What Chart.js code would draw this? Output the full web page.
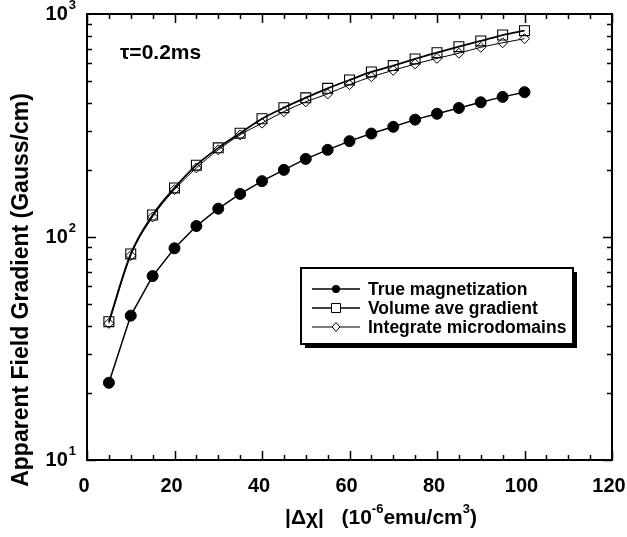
<!DOCTYPE html>
<html>
<head>
<meta charset="utf-8">
<script src="https://cdn.jsdelivr.net/npm/chart.js@4/dist/chart.umd.min.js"></script>
<style>
  html, body { margin: 0; padding: 0; background: #fff; }
  #wrap { width: 627px; height: 537px; }
</style>
</head>
<body>
<div id="wrap"><canvas id="c" width="627" height="537"></canvas></div>
<script>
// |Δχ| in 10^-6 emu/cm^3
const susceptibility = [5, 10, 15, 20, 25, 30, 35, 40, 45, 50, 55, 60, 65, 70, 75, 80, 85, 90, 95, 100];
// Apparent field gradient in Gauss/cm
const trueMagnetization = [22.2, 44.4, 66.8, 89, 112, 134, 156, 178, 200, 224, 246, 269, 291, 312, 336, 357, 379, 402, 425, 446];
const volumeAveGradient = [41.7, 84, 125.5, 166, 210, 251, 292, 339, 380, 421, 464, 506, 550, 587, 629, 671, 714, 757, 805, 842];
const integrateMicrodomains = [41, 82.5, 123, 163, 204, 246, 287, 324, 365, 404, 438, 482, 523, 559, 597, 633, 667, 709, 743, 775];

const seriesNames = ['True magnetization', 'Volume ave gradient', 'Integrate microdomains'];
const xTickValues = [0, 20, 40, 60, 80, 100, 120];
const xMinorStep = 5;
const yTickExponents = [1, 2, 3];

const FONT = '"Liberation Sans", Arial, Helvetica, sans-serif';

function pairs(ys) {
  return susceptibility.map((x, i) => ({ x: x, y: ys[i] }));
}

// text with a raised superscript; align 'left' | 'right' | 'center'
function drawSup(ctx, base, sup, x, y, size, supSize, align) {
  ctx.font = 'bold ' + size + 'px ' + FONT;
  const wb = ctx.measureText(base).width;
  ctx.font = 'bold ' + supSize + 'px ' + FONT;
  const ws = ctx.measureText(sup).width;
  const total = wb + ws;
  let x0 = x;
  if (align === 'right') x0 = x - total;
  else if (align === 'center') x0 = x - total / 2;
  ctx.textAlign = 'left';
  ctx.textBaseline = 'middle';
  ctx.font = 'bold ' + size + 'px ' + FONT;
  ctx.fillText(base, x0, y);
  ctx.font = 'bold ' + supSize + 'px ' + FONT;
  ctx.fillText(sup, x0 + wb + 1, y - size * 0.42);
}

function drawMarker(ctx, kind, x, y, r) {
  ctx.beginPath();
  if (kind === 'circle') {
    ctx.arc(x, y, r, 0, Math.PI * 2);
    ctx.fill();
  } else if (kind === 'rect') {
    ctx.rect(x - r, y - r, 2 * r, 2 * r);
    ctx.stroke();
  } else {
    ctx.moveTo(x, y - r);
    ctx.lineTo(x + r * 0.85, y);
    ctx.lineTo(x, y + r);
    ctx.lineTo(x - r * 0.85, y);
    ctx.closePath();
    ctx.stroke();
  }
}

const framePlugin = {
  id: 'frameAndText',
  afterDraw(chart) {
    const { ctx, chartArea: a, scales } = chart;
    const xs = scales.x, ys = scales.y;
    ctx.save();
    ctx.strokeStyle = '#000';
    ctx.fillStyle = '#000';

    // plot frame
    ctx.lineWidth = 2;
    ctx.strokeRect(a.left, a.top, a.right - a.left, a.bottom - a.top);

    // inward ticks on all four sides
    ctx.lineWidth = 1.5;
    ctx.beginPath();
    for (let v = xs.min; v <= xs.max; v += xMinorStep) {
      const px = Math.round(xs.getPixelForValue(v)) + 0.5;
      const len = xTickValues.includes(v) ? 9 : 5;
      ctx.moveTo(px, a.bottom); ctx.lineTo(px, a.bottom - len);
      ctx.moveTo(px, a.top); ctx.lineTo(px, a.top + len);
    }
    for (let e = yTickExponents[0]; e < yTickExponents[yTickExponents.length - 1]; e++) {
      for (let m = 1; m <= 9; m++) {
        const v = m * Math.pow(10, e);
        const py = Math.round(ys.getPixelForValue(v)) + 0.5;
        const len = m === 1 ? 9 : 5;
        ctx.moveTo(a.left, py); ctx.lineTo(a.left + len, py);
        ctx.moveTo(a.right, py); ctx.lineTo(a.right - len, py);
      }
    }
    ctx.stroke();

    // x tick labels
    ctx.font = 'bold 20px ' + FONT;
    ctx.textAlign = 'center';
    ctx.textBaseline = 'middle';
    xTickValues.forEach(v => {
      ctx.fillText(String(v), xs.getPixelForValue(v) - 3, 486);
    });

    // y tick labels
    yTickExponents.forEach(e => {
      drawSup(ctx, '10', String(e), 75, ys.getPixelForValue(Math.pow(10, e)), 20, 13, 'right');
    });

    // axis titles
    ctx.save();
    ctx.translate(22, 290);
    ctx.rotate(-Math.PI / 2);
    ctx.font = 'bold 23px ' + FONT;
    ctx.textAlign = 'center';
    ctx.textBaseline = 'middle';
    ctx.fillText('Apparent Field Gradient (Gauss/cm)', 0, 0);
    ctx.restore();

    // "|Δχ|   (10^-6emu/cm^3)"
    {
      const size = 21, sup = 13, y = 518;
      const parts = [
        ['|\u0394\u03C7|   (10', size, 0],
        ['-6', sup, -9],
        ['emu/cm', size, 0],
        ['3', sup, -9],
        [')', size, 0]
      ];
      let total = 0;
      parts.forEach(p => { ctx.font = 'bold ' + p[1] + 'px ' + FONT; total += ctx.measureText(p[0]).width; });
      let x = 381 - total / 2;
      ctx.textAlign = 'left';
      ctx.textBaseline = 'middle';
      parts.forEach(p => {
        ctx.font = 'bold ' + p[1] + 'px ' + FONT;
        ctx.fillText(p[0], x, y + p[2]);
        x += ctx.measureText(p[0]).width;
      });
    }

    // annotation
    ctx.font = 'bold 21px ' + FONT;
    ctx.textAlign = 'left';
    ctx.textBaseline = 'middle';
    ctx.fillText('\u03C4=0.2ms', 120, 53);

    // legend box with drop shadow
    const bx = 301, by = 268, bw = 272, bh = 76;
    ctx.fillStyle = '#000';
    ctx.fillRect(bx + 4, by + 4, bw, bh);
    ctx.fillStyle = '#fff';
    ctx.fillRect(bx, by, bw, bh);
    ctx.lineWidth = 2;
    ctx.strokeStyle = '#000';
    ctx.strokeRect(bx, by, bw, bh);

    const rows = [289, 308, 327];
    const kinds = ['circle', 'rect', 'diamond'];
    const widths = [1.5, 1.5, 1];
    const radii = [4, 4.5, 4.5];
    ctx.fillStyle = '#000';
    rows.forEach((ry, i) => {
      ctx.lineWidth = widths[i];
      ctx.beginPath();
      ctx.moveTo(312, ry); ctx.lineTo(360, ry);
      ctx.stroke();
      ctx.save();
      ctx.fillStyle = '#000';
      if (kinds[i] !== 'circle') {
        ctx.fillStyle = '#fff';
        ctx.beginPath();
        if (kinds[i] === 'rect') ctx.rect(336 - radii[i], ry - radii[i], radii[i] * 2, radii[i] * 2);
        else { ctx.moveTo(336, ry - radii[i]); ctx.lineTo(336 + radii[i] * 0.85, ry); ctx.lineTo(336, ry + radii[i]); ctx.lineTo(336 - radii[i] * 0.85, ry); ctx.closePath(); }
        ctx.fill();
      }
      ctx.fillStyle = '#000';
      ctx.lineWidth = 1;
      drawMarker(ctx, kinds[i], 336, ry, radii[i]);
      ctx.restore();
      ctx.font = 'bold 17.5px ' + FONT;
      ctx.textAlign = 'left';
      ctx.textBaseline = 'middle';
      ctx.fillText(seriesNames[i], 368, ry + 1);
    });

    ctx.restore();
  }
};

new Chart(document.getElementById('c'), {
  type: 'line',
  data: {
    datasets: [
      {
        label: seriesNames[0],
        data: pairs(trueMagnetization),
        borderColor: '#000',
        borderWidth: 1.5,
        pointStyle: 'circle',
        pointRadius: 5.5,
        pointBackgroundColor: '#000',
        pointBorderColor: '#000',
        pointBorderWidth: 1,
        tension: 0
      },
      {
        label: seriesNames[1],
        data: pairs(volumeAveGradient),
        borderColor: '#000',
        borderWidth: 1.8,
        pointStyle: 'rect',
        pointRadius: 7,
        pointBackgroundColor: 'rgba(255,255,255,0)',
        pointBorderColor: '#000',
        pointBorderWidth: 1.1,
        cubicInterpolationMode: 'monotone'
      },
      {
        label: seriesNames[2],
        data: pairs(integrateMicrodomains),
        borderColor: '#000',
        borderWidth: 1,
        pointStyle: 'rectRot',
        pointRadius: 5,
        pointBackgroundColor: 'rgba(255,255,255,0)',
        pointBorderColor: '#000',
        pointBorderWidth: 1,
        cubicInterpolationMode: 'monotone'
      }
    ]
  },
  options: {
    responsive: false,
    animation: false,
    layout: { padding: { left: 0, right: 15, top: 14, bottom: 0 } },
    plugins: { legend: { display: false }, tooltip: { enabled: false } },
    scales: {
      x: {
        type: 'linear', min: 0, max: 120,
        grid: { display: false }, border: { display: false },
        ticks: { display: false },
        afterFit(s) { s.height = 77; }
      },
      y: {
        type: 'logarithmic', min: 10, max: 1000,
        grid: { display: false }, border: { display: false },
        ticks: { display: false },
        afterFit(s) { s.width = 87; }
      }
    }
  },
  plugins: [framePlugin]
});
</script>
</body>
</html>
